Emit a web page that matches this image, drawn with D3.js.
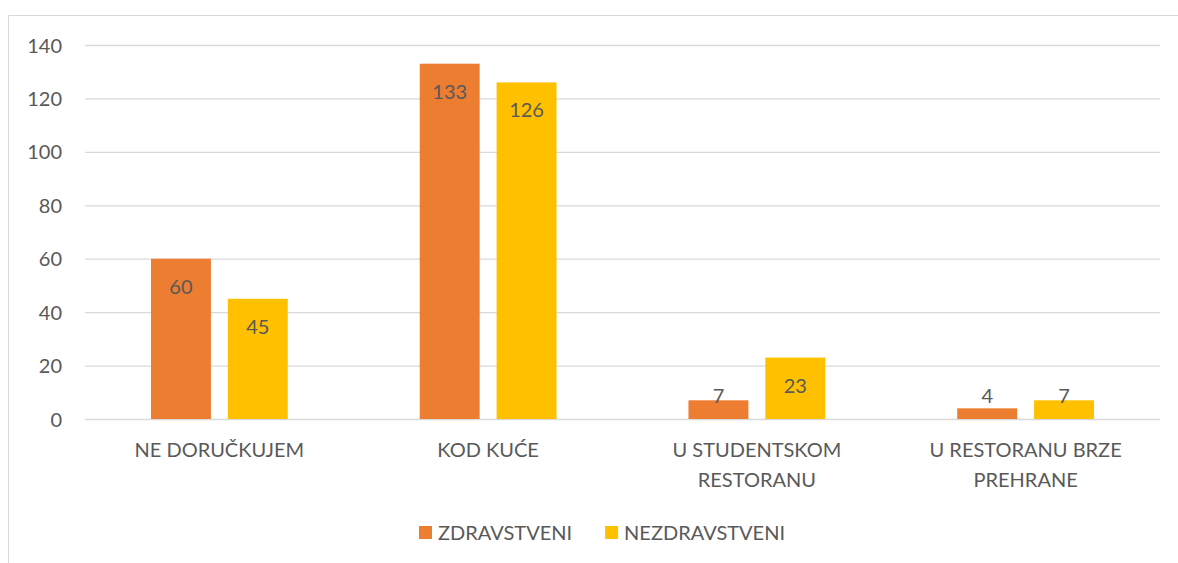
<!DOCTYPE html>
<html>
<head>
<meta charset="utf-8">
<script src="https://cdn.jsdelivr.net/npm/d3@7"></script>
<style>
  body { margin: 0; background: #fff; }
  text { font-family: Lato, "Open Sans", sans-serif; fill: #595959; }
</style>
</head>
<body>
<div id="graphic"></div>
<script>
const categories = [["NE DORUČKUJEM"], ["KOD KUĆE"], ["U STUDENTSKOM", "RESTORANU"], ["U RESTORANU BRZE", "PREHRANE"]];
const seriesNames = ["ZDRAVSTVENI", "NEZDRAVSTVENI"];
const zdravstveni = [60, 133, 7, 4];
const nezdravstveni = [45, 126, 23, 7];
const yTicks = [0, 20, 40, 60, 80, 100, 120, 140];

const colors = ["#ED7D31", "#FFC000"];
const fontSize = "20px";
const W = 1178, H = 563;
const margin = { left: 85, right: 18, top: 45, bottom: 144 };
const width = W - margin.left - margin.right;
const height = H - margin.top - margin.bottom;

const svg = d3.select("#graphic").append("svg")
  .attr("width", W).attr("height", H);

// chart border (top and left visible)
svg.append("path")
  .attr("d", `M8.5,${H} V15.5 H${W}`)
  .attr("fill", "none").attr("stroke", "#d9d9d9").attr("stroke-width", 1);

const plot = svg.append("g").attr("transform", `translate(${margin.left},${margin.top})`);

const x = d3.scaleBand().domain(d3.range(categories.length)).range([0, width]);
const y = d3.scaleLinear().domain([0, 140]).range([height, 0]);

const barW = x.bandwidth() * 0.223;
const gap = x.bandwidth() * 0.063;

// grid
plot.append("g")
  .call(d3.axisLeft(y).tickValues(yTicks).tickSize(-width).tickFormat(""))
  .call(g => g.select(".domain").remove())
  .call(g => g.selectAll("line").attr("stroke", "#d9d9d9").attr("stroke-width", 1.3));

// y labels
plot.append("g")
  .attr("transform", "translate(-23,0)")
  .call(d3.axisLeft(y).tickValues(yTicks).tickSize(0).tickPadding(0))
  .call(g => g.select(".domain").remove())
  .call(g => g.selectAll("text").style("font-size", fontSize).attr("fill", "#595959").attr("dy", "0.35em"));

const series = [zdravstveni, nezdravstveni];
series.forEach((vals, si) => {
  const offset = x.bandwidth() / 2 - barW - gap / 2 + si * (barW + gap);
  const g = plot.append("g");
  g.selectAll("rect").data(vals).enter().append("rect")
    .attr("x", (d, i) => x(i) + offset)
    .attr("y", d => y(d))
    .attr("width", barW)
    .attr("height", d => y(0) - y(d))
    .attr("fill", colors[si]);
  g.selectAll("text").data(vals).enter().append("text")
    .attr("x", (d, i) => x(i) + offset + barW / 2)
    .attr("y", d => Math.min(y(d) + 28, y(0) - 23))
    .attr("dy", "0.35em")
    .attr("text-anchor", "middle")
    .style("font-size", fontSize)
    .attr("fill", "#404040")
    .text(d => d);
});

// category labels
const cat = plot.append("g");
categories.forEach((lines, i) => {
  const t = cat.append("text")
    .attr("x", x(i) + x.bandwidth() / 2)
    .attr("y", height + 31)
    .attr("dy", "0.35em")
    .attr("text-anchor", "middle")
    .style("font-size", fontSize);
  lines.forEach((l, j) => {
    t.append("tspan").attr("x", x(i) + x.bandwidth() / 2).attr("dy", j === 0 ? "0.35em" : "30px").text(l);
  });
});

// legend
const legend = svg.append("g").attr("transform", `translate(419,533)`);
let lx = 0;
seriesNames.forEach((name, i) => {
  legend.append("rect").attr("x", lx).attr("y", -7).attr("width", 13).attr("height", 13).attr("fill", colors[i]);
  const t = legend.append("text").attr("x", lx + 19).attr("y", 0).attr("dy", "0.35em")
    .style("font-size", fontSize).text(name);
  lx += 19 + t.node().getComputedTextLength() + 33;
});
</script>
</body>
</html>
